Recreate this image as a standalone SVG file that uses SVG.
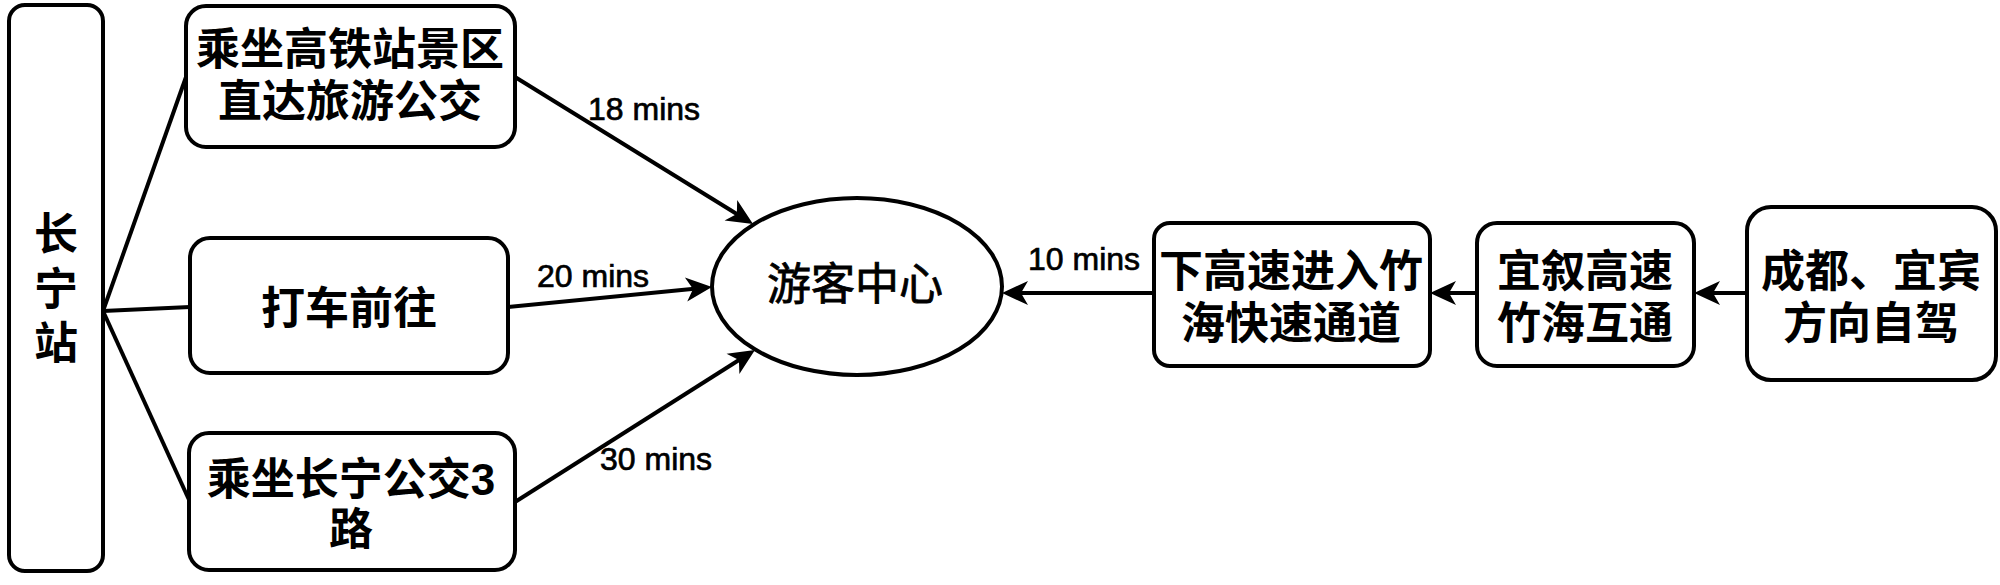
<svg xmlns="http://www.w3.org/2000/svg" width="2000" height="585" viewBox="0 0 2000 585">
<style>
.box{fill:#fff;stroke:#000;stroke-width:4}
.t{font-family:"Liberation Sans","Noto Sans CJK SC",sans-serif;font-size:44px;font-weight:bold;text-anchor:middle;fill:#000}
.tn{font-weight:normal;stroke:#000;stroke-width:0.8px}
.lbl{font-family:"Liberation Sans","Noto Sans CJK SC",sans-serif;font-size:32px;fill:#000;stroke:#000;stroke-width:0.7px}
.ln{fill:none;stroke:#000;stroke-width:4}
.ar{marker-end:url(#arr)}
</style>
<defs>
<marker id="arr" markerUnits="userSpaceOnUse" viewBox="-30 -15 32 30" markerWidth="32" markerHeight="30" refX="-10" refY="0" orient="auto">
<path d="M0,0 L-26,-12 L-19,0 L-26,12 Z" fill="#000"/>
</marker>
</defs>
<rect width="2000" height="585" fill="#fff"/>
<g id="connectors">
<line class="ln" x1="103" y1="311" x2="186" y2="77"/>
<line class="ln" x1="103" y1="311" x2="190" y2="307"/>
<line class="ln" x1="103" y1="311" x2="190" y2="502"/>
<line class="ln ar" x1="515" y1="77" x2="744.5" y2="218.7"/>
<line class="ln ar" x1="508" y1="307" x2="702" y2="288"/>
<line class="ln ar" x1="515" y1="502" x2="746.5" y2="355.3"/>
<line class="ln ar" x1="1154" y1="293" x2="1012" y2="293"/>
<line class="ln ar" x1="1477" y1="293" x2="1440" y2="293"/>
<line class="ln ar" x1="1747" y1="293" x2="1704" y2="293"/>
<text class="lbl" x="588" y="120">18 mins</text>
<text class="lbl" x="537" y="287">20 mins</text>
<text class="lbl" x="600" y="470">30 mins</text>
<text class="lbl" x="1028" y="270">10 mins</text>
</g>
<g id="changning">
<rect class="box" x="9" y="5" width="94" height="566" rx="16"/>
<text class="t" x="56" y="250">长</text>
<text class="t" x="56" y="305">宁</text>
<text class="t" x="56" y="359">站</text>
</g>
<g id="bus-direct">
<rect class="box" x="186" y="6" width="329" height="141" rx="20"/>
<text class="t" x="350" y="65">乘坐高铁站景区</text>
<text class="t" x="350" y="117">直达旅游公交</text>
</g>
<g id="taxi">
<rect class="box" x="190" y="238" width="318" height="135" rx="20"/>
<text class="t" x="349" y="324">打车前往</text>
</g>
<g id="bus3">
<rect class="box" x="189" y="433" width="326" height="137" rx="20"/>
<text class="t" x="351" y="495">乘坐长宁公交3</text>
<text class="t" x="351" y="545">路</text>
</g>
<g id="visitor-center">
<ellipse class="box" cx="857" cy="286.5" rx="145" ry="88.5"/>
<text class="t tn" x="855" y="300">游客中心</text>
</g>
<g id="expressway-exit">
<rect class="box" x="1154" y="223" width="276" height="143" rx="16"/>
<text class="t" x="1291" y="287">下高速进入竹</text>
<text class="t" x="1291" y="339">海快速通道</text>
</g>
<g id="interchange">
<rect class="box" x="1477" y="223" width="217" height="143" rx="20"/>
<text class="t" x="1585" y="287">宜叙高速</text>
<text class="t" x="1585" y="339">竹海互通</text>
</g>
<g id="self-drive">
<rect class="box" x="1747" y="207" width="249" height="173" rx="24"/>
<text class="t" x="1871" y="287">成都、宜宾</text>
<text class="t" x="1871" y="339">方向自驾</text>
</g>
</svg>
